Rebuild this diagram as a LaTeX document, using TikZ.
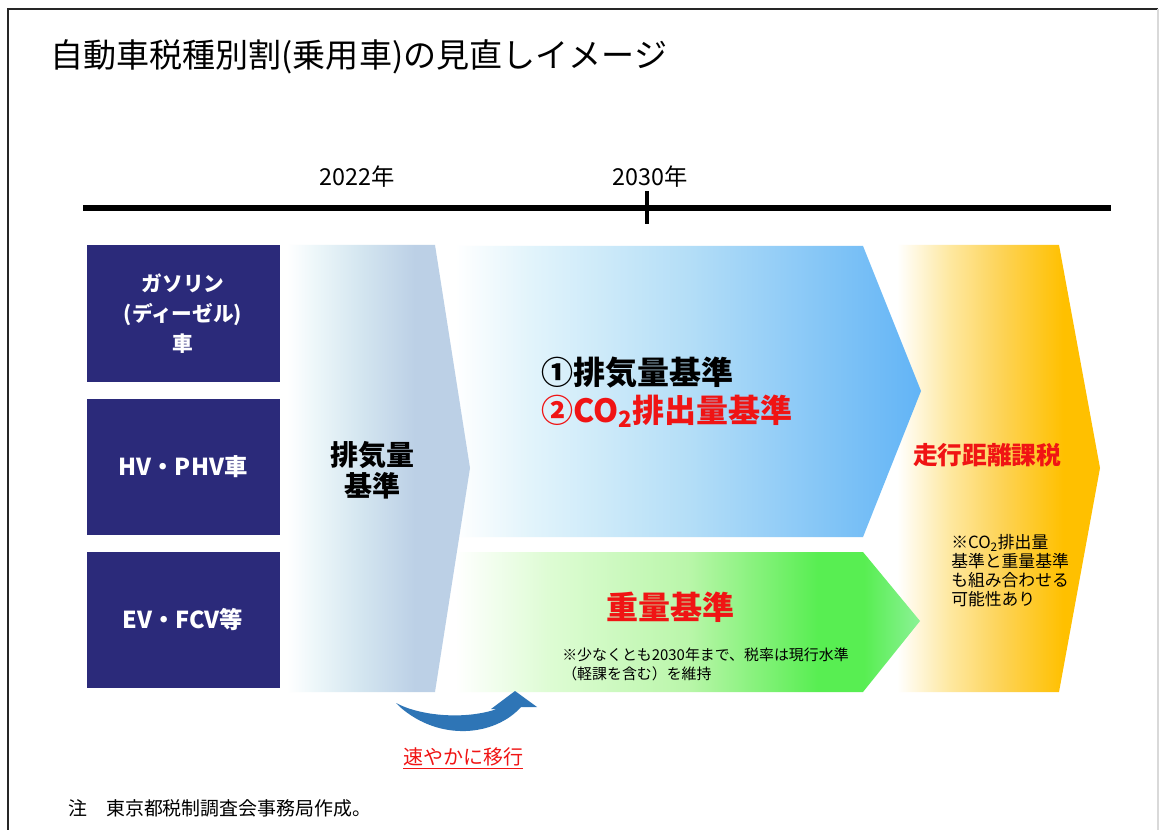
\documentclass[tikz,border=0pt]{standalone}
\usepackage{fontspec}
\setmainfont{Noto Sans CJK JP}
\definecolor{navy}{RGB}{43,42,122}
\definecolor{grayR}{RGB}{188,208,230}
\definecolor{grayM}{RGB}{212,230,240}
\definecolor{grayL}{RGB}{236,246,249}
\definecolor{blueR}{RGB}{98,180,246}
\definecolor{blueM}{RGB}{180,222,247}
\definecolor{blueL}{RGB}{226,244,251}
\definecolor{greenR}{RGB}{88,238,82}
\definecolor{greenM}{RGB}{186,246,170}
\definecolor{greenL}{RGB}{222,252,212}
\definecolor{greenT}{RGB}{140,242,150}
\definecolor{goldR}{RGB}{255,192,0}
\definecolor{goldM}{RGB}{253,212,90}
\definecolor{goldL}{RGB}{254,232,160}
\definecolor{arrowblue}{RGB}{46,117,182}
\definecolor{myred}{RGB}{240,20,20}
\pgfdeclarehorizontalshading{grayshade}{100bp}{color(0bp)=(white); color(25bp)=(white); color(33bp)=(grayL); color(45bp)=(grayM); color(60bp)=(grayR); color(100bp)=(grayR)}
\pgfdeclarehorizontalshading{blueshade}{100bp}{color(0bp)=(white); color(25bp)=(white); color(33bp)=(blueL); color(50bp)=(blueM); color(75bp)=(blueR); color(100bp)=(blueR)}
\pgfdeclarehorizontalshading{greenshade}{100bp}{color(0bp)=(white); color(25bp)=(white); color(35bp)=(greenL); color(50bp)=(greenM); color(64bp)=(greenR); color(69bp)=(greenR); color(75bp)=(greenT); color(100bp)=(greenT)}
\pgfdeclarehorizontalshading{goldshade}{100bp}{color(0bp)=(white); color(25bp)=(white); color(38bp)=(goldL); color(50bp)=(goldM); color(66bp)=(goldR); color(100bp)=(goldR)}
\begin{document}
\begin{tikzpicture}[x=0.75pt,y=-0.75pt,
  navybox/.style={fill=navy,draw=none,minimum width=144.75pt,minimum height=102pt,inner sep=0pt,text=white,font=\bfseries\fontsize{15.5pt}{22.5pt}\selectfont,align=center},
  navybig/.style={navybox,font=\bfseries\fontsize{17.5pt}{22.5pt}\selectfont},
  yearlbl/.style={font=\fontsize{17.5pt}{20pt}\selectfont,inner sep=0pt},
  bigtxt/.style={font=\bfseries\fontsize{24pt}{28pt}\selectfont,inner sep=0pt,anchor=west},
  note/.style={font=\fontsize{11.2pt}{14.3pt}\selectfont,inner sep=0pt,align=left},
]
\useasboundingbox (0,0) rectangle (1159,830);
\fill[white] (0,0) rectangle (1159,830);
% frame
\draw[line width=1.8pt,black!85] (8,840) -- (8,9) -- (1158,9);
\draw[black!15,line width=0.8pt] (1158,9) -- (1158,830);
% title
\node[anchor=west,inner sep=0pt,font=\fontsize{24.8pt}{28pt}\selectfont] (title) at (50,57) {自動車税種別割(乗用車)の見直しイメージ};
% timeline
\coordinate (tl0) at (83,208);
\coordinate (tl1) at (1111,208);
\draw[line width=4pt] (tl0) -- (tl1);
\coordinate (tk0) at (647,191);
\coordinate (tk1) at (647,224);
\draw[line width=3pt] (tk0) -- (tk1);
\node[yearlbl] (y22) at (357,177) {2022年};
\node[yearlbl] (y30) at (650,177) {2030年};
% orange chevron
\shade[shading=goldshade] (897,245) -- (1059,245) -- (1100,468) -- (1059,692) -- (897,692) -- cycle;
% blue chevron
\shade[shading=blueshade] (455,246) -- (863,246) -- (921,391) -- (863,537) -- (455,537) -- cycle;
% green chevron
\shade[shading=greenshade] (455,552) -- (863,552) -- (920,621) -- (863,692) -- (455,692) -- cycle;
% gray chevron
\shade[shading=grayshade] (287,245) -- (435,245) -- (470,468) -- (435,692) -- (287,692) -- cycle;
% navy boxes
\node[navybox] (gas) at (183,313.5) {ガソリン\\(ディーゼル)\\車};
\node[navybig] (hv) at (183,466.5) {HV・PHV車};
\node[navybig] (ev) at (183,620) {EV・FCV等};
% texts
\node[font=\bfseries\fontsize{21pt}{23.5pt}\selectfont,align=center,inner sep=0pt] (haiki) at (372,470) {排気量\\基準};
\node[bigtxt] (c1) at (541,373) {①排気量基準};
\node[bigtxt,text=myred] (c2) at (541,411) {②CO\textsubscript{2}排出量基準};
\node[bigtxt,text=myred,anchor=center] (juryo) at (670,607) {重量基準};
\node[note,anchor=north west] (n1) at (562,648) {※少なくとも2030年まで、税率は現行水準\\（軽課を含む）を維持};
\node[font=\bfseries\fontsize{18.5pt}{20pt}\selectfont,text=myred,inner sep=0pt] (soko) at (987,455) {走行距離課税};
\node[note,anchor=north west,font=\fontsize{12.6pt}{14.4pt}\selectfont] (n2) at (951,534) {※CO\textsubscript{2}排出量\\基準と重量基準\\も組み合わせる\\可能性あり};
% curved arrow
\fill[arrowblue] (396,703) .. controls (420,716) and (465,720) .. (497,709)
  -- (491,709) -- (515,691) -- (537,707) -- (521,707)
  .. controls (495,736) and (440,742) .. (400,707) -- cycle;
\node[font=\fontsize{15pt}{18pt}\selectfont,text=myred,inner sep=0pt] (move) at (463,758) {\underline{速やかに移行}};
% footnote
\node[anchor=west,inner sep=0pt,font=\fontsize{14.2pt}{16pt}\selectfont] (foot) at (68,808) {注　東京都税制調査会事務局作成。};
\end{tikzpicture}
\end{document}
